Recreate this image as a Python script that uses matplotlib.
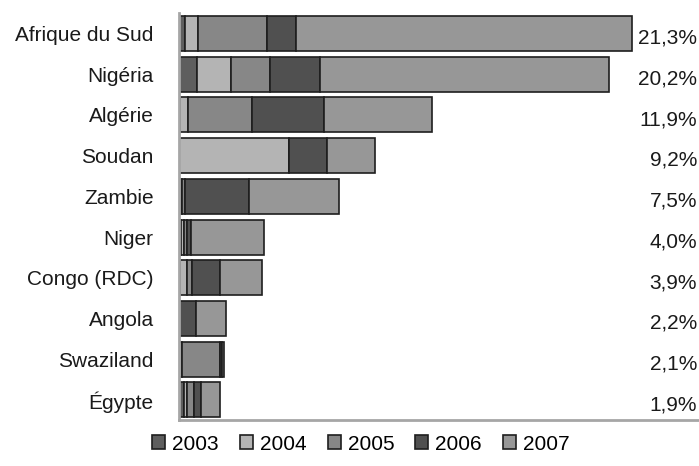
import matplotlib.pyplot as plt
import matplotlib.transforms as mtransforms
import numpy as np

plt.rcParams['font.family'] = ['Liberation Sans', 'DejaVu Sans']

# ============================================
# DATA (share of total, %)
# ============================================
countries = ['Afrique du Sud', 'Nigéria', 'Algérie', 'Soudan', 'Zambie',
             'Niger', 'Congo (RDC)', 'Angola', 'Swaziland', 'Égypte']
years = ['2003', '2004', '2005', '2006', '2007']
v2003 = [0.27, 0.82, 0.05, 0.0, 0.15, 0.10, 0.05, 0.0, 0.0, 0.20]
v2004 = [0.63, 1.60, 0.37, 5.15, 0.0, 0.10, 0.30, 0.0, 0.15, 0.15]
v2005 = [3.21, 1.85, 3.01, 0.0, 0.10, 0.15, 0.25, 0.0, 1.75, 0.35]
v2006 = [1.38, 2.35, 3.39, 1.80, 3.05, 0.20, 1.30, 0.80, 0.10, 0.30]
v2007 = [15.81, 13.58, 5.08, 2.25, 4.20, 3.45, 2.00, 1.40, 0.10, 0.90]
totals = ['21,3%', '20,2%', '11,9%', '9,2%', '7,5%', '4,0%', '3,9%', '2,2%', '2,1%', '1,9%']

colors = ['#5e5e5e', '#b4b4b4', '#878787', '#505050', '#979797']

# ============================================
# CHART
# ============================================
fig = plt.figure(figsize=(6.99, 4.66), dpi=100)
ax = fig.add_axes([0.2565, 0.098, 0.7435, 0.874])

y = np.arange(len(countries))
left = np.zeros(len(countries))
for year, vals, c in zip(years, [v2003, v2004, v2005, v2006, v2007], colors):
    vals = np.array(vals)
    ax.barh(y, vals, left=left, height=0.86, color=c, edgecolor='#1e1e1e',
            linewidth=1.2, label=year)
    left = left + vals

ax.set_xlim(0, 24.43)
ax.set_ylim(9.5, -0.5)
ax.set_yticks(y)
ax.set_yticklabels(countries, fontsize=15, color='#1a1a1a')
ax.tick_params(axis='y', length=0, pad=18.5)
ax.set_xticks([])

for s in ['top', 'right']:
    ax.spines[s].set_visible(False)
for s in ['left', 'bottom']:
    ax.spines[s].set_color('#a6a6a6')
    ax.spines[s].set_linewidth(2)

# percentage labels, right aligned at figure edge
trans = mtransforms.blended_transform_factory(fig.transFigure, ax.transData)
for i, t in enumerate(totals):
    ax.text(697 / 699, y[i] + 0.12, t, transform=trans, ha='right', va='center',
            fontsize=15, color='#1a1a1a')

fig.legend(loc='center', bbox_to_anchor=(361 / 699, 1 - 444 / 466), ncol=5,
           frameon=False, fontsize=15, handlelength=0.63, handleheight=0.63,
           handletextpad=0.34, columnspacing=1.0)

plt.savefig('out.png', dpi=100)
plt.close()
